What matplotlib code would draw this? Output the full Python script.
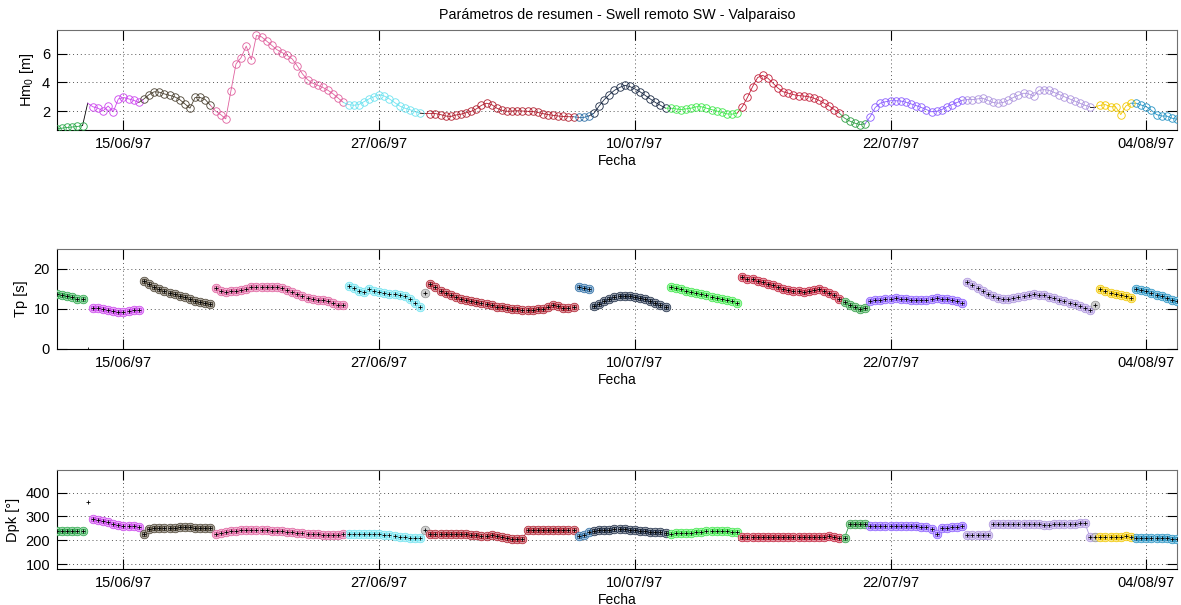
import matplotlib
matplotlib.use('Agg')
import matplotlib.pyplot as plt
import matplotlib.dates as mdates
import matplotlib.colors as mcolors
import numpy as np
from datetime import datetime, timedelta

# ---------------- data (6-hourly samples) ----------------
T_START = datetime(1997, 6, 11, 18)
STEP_HOURS = 6

# first sample index of each coloured group
SEG_START = [0, 6, 7, 17, 31, 57, 72, 73, 102, 105, 120, 134, 154, 159, 178, 203, 204, 211]
SEG_COLORS = ['#2aa84a', '#000000', '#cc44ee', '#4b4232', '#e0609e', '#6ee3f0', '#000000',
              '#b01e2e', '#2e6fa6', '#1c2b45', '#3ee84a', '#c21f3a', '#2f9e44', '#8a5cff',
              '#ad94de', '#000000', '#f2c800', '#2593c4']
# whether the group gets the big halo marker in the Tp / Dpk panels
SEG_HALO = [True, False, True, True, True, True, True, True, True, True, True, True,
            True, True, True, True, True, True]

HM0 = [
    0.74, 0.80, 0.85, 0.88, 0.92, 0.98,
    2.55,
    2.30, 2.20, 2.00, 2.35, 1.95, 2.85, 2.95, 2.85, 2.75, 2.60,
    2.85, 3.15, 3.35, 3.32, 3.20, 3.10, 3.00, 2.80, 2.50, 2.20, 2.95, 2.95, 2.80, 2.40,
    2.00, 1.75, 1.45, 3.40, 5.30, 5.75, 6.55, 5.60, 7.30, 7.20, 6.90, 6.60, 6.30, 6.10,
    5.90, 5.65, 5.15, 4.60, 4.20, 3.95, 3.80, 3.65, 3.45, 3.20, 2.90, 2.60,
    2.45, 2.40, 2.45, 2.65, 2.85, 3.00, 3.15, 3.05, 2.85, 2.60, 2.35, 2.20, 2.10, 1.95, 1.85,
    1.82,
    1.82, 1.82, 1.75, 1.65, 1.62, 1.72, 1.78, 1.88, 1.98, 2.15, 2.40, 2.55, 2.45, 2.20,
    2.05, 1.98, 2.00, 2.02, 2.00, 1.98, 1.97, 1.90, 1.82, 1.75, 1.70, 1.65, 1.62, 1.60, 1.60,
    1.55, 1.55, 1.65,
    1.85, 2.35, 2.80, 3.15, 3.45, 3.65, 3.80, 3.72, 3.55, 3.35, 3.10, 2.85, 2.60, 2.40, 2.20,
    2.20, 2.15, 2.10, 2.15, 2.20, 2.30, 2.30, 2.20, 2.10, 2.00, 1.90, 1.80, 1.78, 1.85,
    2.30, 2.95, 3.70, 4.35, 4.50, 4.30, 3.95, 3.60, 3.35, 3.25, 3.15, 3.08, 3.05, 3.00,
    2.90, 2.75, 2.55, 2.35, 2.10, 1.85,
    1.50, 1.30, 1.15, 1.05, 1.10,
    1.60, 2.25, 2.55, 2.65, 2.72, 2.72, 2.70, 2.62, 2.50, 2.38, 2.25, 2.10, 1.95, 1.98,
    2.10, 2.30, 2.45, 2.60, 2.75,
    2.80, 2.80, 2.85, 2.90, 2.75, 2.60, 2.55, 2.60, 2.75, 2.95, 3.10, 3.25, 3.20, 3.05,
    3.45, 3.50, 3.45, 3.30, 3.15, 3.00, 2.85, 2.70, 2.55, 2.40, 2.30,
    2.30,
    2.40, 2.45, 2.30, 2.30, 1.75, 2.35, 2.55,
    2.55, 2.42, 2.30, 2.05, 1.75, 1.65, 1.65, 1.50, 1.42,
]

TP = [
    13.8, 13.5, 13.2, 12.9, 12.6, 12.4,
    0.0,
    10.3, 10.2, 10.0, 9.8, 9.6, 9.3, 9.3, 9.5, 9.7, 9.8,
    16.9, 16.3, 15.6, 14.9, 14.4, 14.1, 13.7, 13.3, 12.9, 12.5, 12.1, 11.8, 11.5, 11.2,
    15.3, 14.6, 14.2, 14.5, 14.6, 14.7, 15.1, 15.4, 15.5, 15.5, 15.5, 15.5, 15.4, 15.2,
    14.8, 14.3, 13.8, 13.3, 12.8, 12.4, 12.3, 12.2, 11.9, 11.4, 11.1, 11.0,
    15.7, 15.2, 14.6, 14.2, 14.9, 14.5, 14.2, 14.0, 13.7, 13.8, 13.6, 13.3, 12.5, 11.4, 10.4,
    14.0,
    16.2, 15.4, 14.6, 14.0, 13.4, 13.0, 12.6, 12.2, 11.9, 11.7, 11.5, 11.2, 10.9, 10.6,
    10.4, 10.2, 10.0, 9.9, 9.8, 9.8, 9.8, 9.9, 10.1, 10.4, 11.0, 10.7, 10.3, 10.2, 10.5,
    15.5, 15.3, 15.1,
    10.8, 11.3, 11.9, 12.5, 13.0, 13.3, 13.3, 13.2, 13.0, 12.7, 12.4, 12.0, 11.6, 11.1, 10.5,
    15.6, 15.2, 14.9, 14.6, 14.3, 14.1, 13.8, 13.4, 13.1, 12.8, 12.5, 12.2, 11.9, 11.5,
    17.9, 17.6, 17.4, 17.1, 16.7, 16.3, 15.9, 15.4, 15.1, 14.8, 14.6, 14.4, 14.3, 14.5,
    14.8, 14.9, 14.5, 14.0, 13.4, 12.5,
    11.8, 11.0, 10.4, 10.1, 10.2,
    12.0, 12.2, 12.3, 12.5, 12.6, 12.7, 12.6, 12.4, 12.3, 12.2, 12.2, 12.3, 12.5, 12.7,
    12.6, 12.4, 12.2, 11.9, 11.5,
    16.8, 16.0, 15.2, 14.4, 13.8, 13.2, 12.8, 12.6, 12.5, 12.7, 13.0, 13.3, 13.6, 13.7,
    13.6, 13.4, 13.1, 12.7, 12.3, 12.0, 11.6, 11.2, 10.8, 10.3, 9.8,
    11.0,
    15.0, 14.6, 14.0, 13.8, 13.6, 13.3, 12.8,
    15.1, 14.8, 14.4, 14.0, 13.6, 13.2, 12.8, 12.3, 11.9,
]

DPK = [
    240, 240, 240, 240, 240, 240,
    360,
    290, 285, 280, 275, 268, 262, 260, 260, 258, 255,
    225, 248, 250, 250, 252, 253, 252, 255, 255, 256, 253, 252, 252, 252,
    228, 232, 236, 238, 240, 242, 243, 244, 244, 243, 242, 240, 239, 238,
    236, 234, 232, 230, 228, 226, 224, 222, 221, 221, 222, 224,
    226, 226, 226, 225, 225, 225, 224, 222, 220, 216, 213, 212, 210, 210, 210,
    242,
    226, 226, 226, 226, 226, 226, 226, 225, 223, 220, 218, 219, 220, 218,
    214, 210, 206, 204, 203, 243, 244, 243, 244, 244, 243, 244, 244, 244, 244,
    217, 220, 235,
    240, 243, 244, 244, 245, 245, 245, 244, 242, 240, 238, 236, 234, 233, 232,
    228, 229, 230, 231, 232, 234, 236, 238, 240, 240, 239, 237, 236, 234,
    212, 212, 212, 212, 212, 212, 212, 212, 212, 212, 212, 212, 212, 212,
    212, 212, 214, 217, 214, 211,
    211, 268, 268, 268, 266,
    258, 260, 260, 260, 260, 260, 260, 260, 259, 259, 257, 255, 245, 228,
    252, 253, 254, 255, 258,
    220, 220, 220, 220, 220, 266, 266, 267, 268, 268, 267, 267, 266, 267,
    266, 265, 265, 266, 267, 268, 269, 270, 271, 272, 212,
    215,
    212, 212, 212, 213, 214, 216, 214,
    210, 210, 210, 210, 210, 210, 209, 207, 205,
]

XTICK_DATES = [datetime(1997, 6, 15), datetime(1997, 6, 27, 12), datetime(1997, 7, 10),
               datetime(1997, 7, 22, 12), datetime(1997, 8, 4)]
XTICK_LABELS = ['15/06/97', '27/06/97', '10/07/97', '22/07/97', '04/08/97']

TITLE = 'Parámetros de resumen - Swell remoto SW - Valparaiso'

# ---------------- style ----------------
plt.rcParams['font.family'] = ['Liberation Sans', 'DejaVu Sans']
plt.rcParams['mathtext.fontset'] = 'custom'
plt.rcParams['mathtext.rm'] = 'Liberation Sans'
plt.rcParams['mathtext.it'] = 'Liberation Sans'


def lighten(c, f=0.55):
    r, g, b = mcolors.to_rgb(c)
    return (r + (1 - r) * f, g + (1 - g) * f, b + (1 - b) * f)


times = [T_START + timedelta(hours=STEP_HOURS * i) for i in range(len(HM0))]
tnum = mdates.date2num(times)
bounds = SEG_START + [len(HM0)]

W, H = 1181, 605
fig = plt.figure(figsize=(W / 100, H / 100), dpi=100)
L, R = 57, 1177
ax1 = fig.add_axes([L / W, 1 - 130 / H, (R - L) / W, 100 / H])
ax2 = fig.add_axes([L / W, 1 - 349 / H, (R - L) / W, 100 / H])
ax3 = fig.add_axes([L / W, 1 - 569 / H, (R - L) / W, 99 / H])

hm = np.array(HM0)
tp = np.array(TP)
dp = np.array(DPK)

for k in range(len(SEG_START)):
    a, b = bounds[k], bounds[k + 1]
    c = SEG_COLORS[k]
    is_black = c == '#000000'
    a0 = max(a - 1, 0)
    ax1.plot(tnum[a0:b], hm[a0:b], '-', color=c, lw=0.6, zorder=2)
    if not is_black:
        ax1.plot(tnum[a:b], hm[a:b], 'o', mfc='none', mec=c, ms=5.4, mew=0.6, zorder=3)
    for ax, vals in ((ax2, tp), (ax3, dp)):
        if not is_black:
            ax.plot(tnum[a:b], vals[a:b], '-', color=c, lw=0.6, zorder=2)
        if SEG_HALO[k]:
            halo = '#d0d0d0' if is_black else lighten(c)
            edge = '#909090' if is_black else c
            ax.plot(tnum[a:b], vals[a:b], 'o', mfc=halo, mec=edge, ms=6.2, mew=0.5, zorder=3)
        if not is_black:
            ax.plot(tnum[a:b], vals[a:b], 's', mfc='none', mec=c, ms=3.2, mew=0.6, zorder=4)
        ax.plot(tnum[a:b], vals[a:b], '+', color='k', ms=2.6, mew=0.6, zorder=5)

xt = mdates.date2num(XTICK_DATES)
for ax in (ax1, ax2, ax3):
    ax.set_xlim(tnum[0], tnum[-1])
    ax.set_xticks(xt)
    ax.set_xticklabels(XTICK_LABELS)
    ax.tick_params(direction='in', length=7, width=0.8, top=True, right=True,
                   labelsize=10.5, pad=5)
    ax.grid(True, linestyle=(0, (1, 3)), color='#555555', lw=0.7)
    for s in ax.spines.values():
        s.set_linewidth(0.8)
    ax.spines['top'].set_color('#707070')
    ax.spines['right'].set_color('#707070')
    ax.set_xlabel('Fecha', fontsize=10, labelpad=2)

ax1.set_ylim(0.67, 7.68)
ax1.set_yticks([2, 4, 6])
ax1.set_ylabel('Hm$_0$ [m]', fontsize=10.5)
ax1.set_title(TITLE, fontsize=10.3, pad=8)

ax2.set_ylim(0, 25)
ax2.set_yticks([0, 10, 20])
ax2.set_ylabel('Tp [s]', fontsize=10.5)

ax3.set_ylim(79, 495)
ax3.set_yticks([100, 200, 300, 400])
ax3.set_ylabel('Dpk [°]', fontsize=10.5)

fig.savefig('out.png', dpi=100)
